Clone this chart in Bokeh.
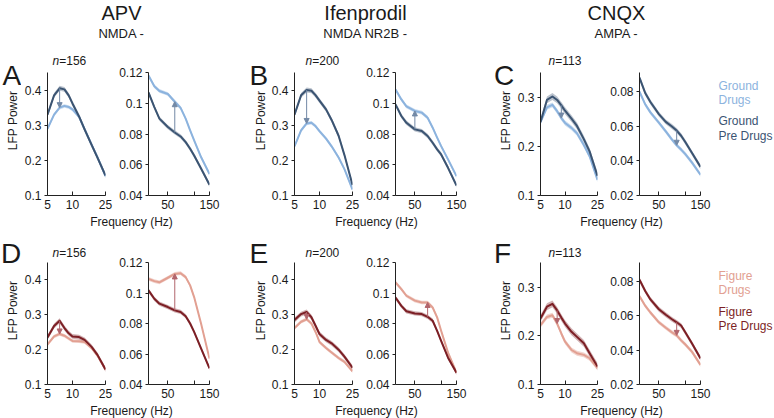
import math
from bokeh.plotting import figure
from bokeh.models import Range1d, FixedTicker, PrintfTickFormatter, Label, Arrow, NormalHead
from bokeh.layouts import column, row
from bokeh.embed import file_html
from bokeh.resources import INLINE

# ---------------- data ----------------
FREQ_LOW = [5, 6, 7, 8, 9, 10, 12, 14, 17, 20, 25]
FREQ_HIGH = [30, 35, 40, 50, 60, 70, 80, 90, 100, 120, 150]

DRUG_NAMES = ["APV", "Ifenprodil", "CNQX"]
RECEPTOR_LABELS = ["NMDA -", "NMDA NR2B -", "AMPA -"]
N_CELLS = [156, 200, 113]
LETTERS = [["A", "B", "C"], ["D", "E", "F"]]
LEGEND_TEXT = [["Ground", "Drugs", "Ground", "Pre Drugs"], ["Figure", "Drugs", "Figure", "Pre Drugs"]]

LOW_TICKS = [[0.1, 0.2, 0.3, 0.4], [0.1, 0.2, 0.3, 0.4], [0.1, 0.2, 0.3]]
HIGH_TICKS = [[0.04, 0.06, 0.08, 0.1, 0.12], [0.04, 0.06, 0.08, 0.1, 0.12], [0.02, 0.04, 0.06, 0.08]]
LOW_YRANGE = [(0.1, 0.45), (0.1, 0.45), (0.1, 0.351)]
HIGH_YRANGE = [(0.04, 0.12), (0.04, 0.12), (0.02, 0.091)]
LOW_XTICKS = [5, 10, 25]
HIGH_XTICKS = [50, 150]
HIGH_XMINOR = [100]

# Ground (top row)
A_LOW_PRE = [0.330, 0.385, 0.405, 0.402, 0.385, 0.362, 0.325, 0.288, 0.244, 0.208, 0.157]
A_LOW_DRUG = [0.290, 0.330, 0.350, 0.355, 0.352, 0.345, 0.324, 0.289, 0.245, 0.209, 0.155]
A_HIGH_PRE = [0.107, 0.0975, 0.090, 0.0845, 0.081, 0.0784, 0.0747, 0.0704, 0.066, 0.0576, 0.047]
A_HIGH_DRUG = [0.118, 0.111, 0.108, 0.106, 0.101, 0.097, 0.090, 0.0823, 0.0758, 0.065, 0.054]

B_LOW_PRE = [0.330, 0.385, 0.400, 0.398, 0.385, 0.370, 0.345, 0.315, 0.270, 0.215, 0.130]
B_LOW_DRUG = [0.240, 0.285, 0.305, 0.307, 0.297, 0.283, 0.262, 0.240, 0.208, 0.175, 0.117]
B_HIGH_PRE = [0.0993, 0.0917, 0.0873, 0.083, 0.0819, 0.0787, 0.0743, 0.070, 0.0667, 0.058, 0.0465]
B_HIGH_DRUG = [0.109, 0.1025, 0.098, 0.095, 0.0939, 0.0906, 0.0841, 0.0776, 0.0721, 0.0635, 0.0526]

C_LOW_PRE = [0.250, 0.295, 0.302, 0.295, 0.284, 0.273, 0.257, 0.242, 0.215, 0.190, 0.140]
C_LOW_DRUG = [0.250, 0.280, 0.285, 0.272, 0.258, 0.248, 0.238, 0.227, 0.203, 0.180, 0.132]
C_HIGH_PRE = [0.088, 0.079, 0.074, 0.067, 0.0625, 0.060, 0.0575, 0.0545, 0.051, 0.0445, 0.0365]
C_HIGH_DRUG = [0.080, 0.0725, 0.068, 0.062, 0.057, 0.0525, 0.049, 0.0465, 0.044, 0.039, 0.032]

# Figure (bottom row)
D_LOW_PRE = [0.235, 0.268, 0.283, 0.262, 0.247, 0.238, 0.236, 0.228, 0.208, 0.185, 0.143]
D_LOW_DRUG = [0.215, 0.238, 0.245, 0.240, 0.232, 0.225, 0.224, 0.222, 0.205, 0.183, 0.143]
D_HIGH_PRE = [0.1017, 0.0962, 0.093, 0.0908, 0.0886, 0.0876, 0.0848, 0.080, 0.0745, 0.0637, 0.0506]
D_HIGH_DRUG = [0.1093, 0.1078, 0.107, 0.110, 0.1125, 0.113, 0.1104, 0.105, 0.0973, 0.080, 0.057]

E_LOW_PRE = [0.285, 0.302, 0.308, 0.293, 0.268, 0.245, 0.228, 0.218, 0.200, 0.180, 0.148]
E_LOW_DRUG = [0.262, 0.280, 0.287, 0.275, 0.250, 0.222, 0.205, 0.192, 0.176, 0.165, 0.138]
E_HIGH_PRE = [0.097, 0.0916, 0.088, 0.0866, 0.0862, 0.0844, 0.0818, 0.0752, 0.0686, 0.0576, 0.0477]
E_HIGH_DRUG = [0.107, 0.1026, 0.0982, 0.095, 0.0938, 0.0938, 0.0905, 0.084, 0.0752, 0.0609, 0.0477]

F_LOW_PRE = [0.236, 0.260, 0.266, 0.2525, 0.2376, 0.2254, 0.2085, 0.198, 0.1847, 0.1644, 0.137]
F_LOW_DRUG = [0.222, 0.239, 0.2424, 0.2254, 0.205, 0.188, 0.171, 0.1644, 0.161, 0.154, 0.134]
F_HIGH_PRE = [0.081, 0.0743, 0.0695, 0.0638, 0.0606, 0.0581, 0.0562, 0.0543, 0.0505, 0.0438, 0.0352]
F_HIGH_DRUG = [0.0714, 0.0657, 0.0619, 0.0562, 0.053, 0.0505, 0.0486, 0.0457, 0.0434, 0.039, 0.0314]

# standard errors (band half widths)
SEM_LOW_PRE = 0.007
SEM_LOW_DRUG = 0.005
SEM_HIGH_PRE = 0.0014
SEM_HIGH_DRUG = 0.0012

# frequencies where the change arrows are drawn
ARROW_LOW_HZ = [[7, 7, 9], [7, 7, 8]]
ARROW_HIGH_HZ = [[60, 50, 80], [60, 70, 80]]

ROWS_DATA = [
    [(A_LOW_PRE, A_LOW_DRUG, A_HIGH_PRE, A_HIGH_DRUG),
     (B_LOW_PRE, B_LOW_DRUG, B_HIGH_PRE, B_HIGH_DRUG),
     (C_LOW_PRE, C_LOW_DRUG, C_HIGH_PRE, C_HIGH_DRUG)],
    [(D_LOW_PRE, D_LOW_DRUG, D_HIGH_PRE, D_HIGH_DRUG),
     (E_LOW_PRE, E_LOW_DRUG, E_HIGH_PRE, E_HIGH_DRUG),
     (F_LOW_PRE, F_LOW_DRUG, F_HIGH_PRE, F_HIGH_DRUG)],
]

# ---------------- styling ----------------
FONT = "Liberation Sans"
TEXT = "#1a1a1a"
AXIS = "#222222"
ROW_COLORS = [
    {"light": "#8cb3de", "dark": "#3b5472", "arrow": "#7389a6"},
    {"light": "#e2a092", "dark": "#7c1f25", "arrow": "#b2656c"},
]

# ---------------- layout geometry (page px) ----------------
TOTAL_W = 774
HEADER_Y = (0, 50)
ROW_Y = [(50, 214), (233, 403)]
STRIP_Y = [(214, 233), (403, 418)]
LEFT_TOP = [68, 260]           # top of the lower-frequency figure (n label strip above)
FRAME_T = [72, 262]
FRAME_B = [195, 384]
SIDE_X = [(0, 21), (248, 268), (493, 514)]
LEFT_X = [(21, 114), (268, 361), (514, 607)]
RIGHT_X = [(114, 248), (361, 493), (607, 714)]
LEGEND_XR = (714, 774)
FRAME_LX = [(44, 105), (291, 352), (537, 597)]
FRAME_RX = [(148, 209), (395, 456), (638, 700)]

# text positions (vertical = centre of capitals)
TITLE_X = [121, 365, 616]
TITLE_MID = 12.5
SUB_MID = 32.5
LETTER_X = [[2, 249, 493.5], [0.5, 249, 493.5]]
LETTER_MID = [75, 253]
N_X = [52, 305, 548]
N_MID = [60.5, 252.5]
LFP_X = [12.5, 260, 505]
LFP_Y = [120, 310]
FREQ_X = [131, 376, 621]
FREQ_MID = [221.2, 410.8]
LEGEND_X = 718
LEGEND_MID = [[85.2, 99.2, 120.7, 135.2], [275.2, 289.2, 311.7, 325.7]]


def blank(x0, y0, x1, y1):
    p = figure(width=x1 - x0, height=y1 - y0, x_range=Range1d(x0, x1), y_range=Range1d(y1, y0),
               x_axis_location=None, y_axis_location=None, toolbar_location=None,
               output_backend="svg", min_border=0, outline_line_color=None,
               title_location=None, frame_align=False)
    p.grid.visible = False
    p.background_fill_color = "white"
    p.border_fill_color = "white"
    return p


def add_text(p, x, y, text, size, color=TEXT, align="left", style="normal", angle=0.0):
    p.add_layout(Label(x=x, y=y, text=text, text_font=FONT, text_font_size=f"{size}px",
                       text_color=color, text_align=align, text_baseline="middle",
                       text_font_style=style, angle=angle))


def style_axes(p, xticks, minor, yticks):
    for ax in (p.xaxis[0], p.yaxis[0]):
        ax.axis_line_color = AXIS
        ax.axis_line_width = 1
        ax.major_tick_line_color = AXIS
        ax.major_label_text_font = FONT
        ax.major_label_text_font_size = "12px"
        ax.major_label_text_color = TEXT
        ax.formatter = PrintfTickFormatter(format="%g")
    xa = p.xaxis[0]
    xa.ticker = FixedTicker(ticks=xticks, minor_ticks=minor)
    xa.major_tick_in = 4
    xa.major_tick_out = 0
    xa.minor_tick_in = 4
    xa.minor_tick_out = 0
    xa.minor_tick_line_color = AXIS if minor else None
    xa.major_label_standoff = 4
    ya = p.yaxis[0]
    ya.ticker = FixedTicker(ticks=yticks)
    ya.major_tick_in = 0
    ya.major_tick_out = 3
    ya.minor_tick_line_color = None
    ya.major_label_standoff = 3
    p.grid.visible = False


def spectrum_fig(xb, yb, frame_x, frame_y, xr, yr, xt, mn, yt, freq, pre, drug, sp, sd, ahz, cols):
    x0, x1 = xb
    y0, y1 = yb
    fl, fr = frame_x
    ft, fb = frame_y
    p = figure(width=x1 - x0, height=y1 - y0, x_axis_type="log",
               x_range=Range1d(*xr), y_range=Range1d(*yr),
               min_border_left=fl - x0, min_border_right=x1 - fr,
               min_border_top=ft - y0, min_border_bottom=y1 - fb,
               toolbar_location=None, output_backend="svg",
               outline_line_color=None, title_location=None, frame_align=False)
    style_axes(p, xt, mn, yt)
    p.varea(x=freq, y1=[v - sd for v in drug], y2=[v + sd for v in drug],
            fill_color=cols["light"], fill_alpha=0.45)
    p.varea(x=freq, y1=[v - sp for v in pre], y2=[v + sp for v in pre],
            fill_color=cols["dark"], fill_alpha=0.35)
    p.line(freq, drug, line_color=cols["light"], line_width=2, line_join="round")
    p.line(freq, pre, line_color=cols["dark"], line_width=2, line_join="round")
    i = freq.index(ahz)
    p.add_layout(Arrow(end=NormalHead(size=5, fill_color=cols["arrow"], line_color=cols["arrow"]),
                       x_start=freq[i], y_start=pre[i], x_end=freq[i], y_end=drug[i],
                       line_color=cols["arrow"], line_width=1))
    return p


# header
header = blank(0, HEADER_Y[0], TOTAL_W, HEADER_Y[1])
for c in range(3):
    add_text(header, TITLE_X[c], TITLE_MID, DRUG_NAMES[c], 20, align="center")
    add_text(header, TITLE_X[c], SUB_MID, RECEPTOR_LABELS[c], 13, align="center")

children = [header]

for r in range(2):
    ry0, ry1 = ROW_Y[r]
    cols = ROW_COLORS[r]
    groups = []
    for c in range(3):
        pre_lo, drug_lo, pre_hi, drug_hi = ROWS_DATA[r][c]
        # side strip: panel letter and y label
        side = blank(SIDE_X[c][0], ry0, SIDE_X[c][1], ry1)
        add_text(side, LETTER_X[r][c], LETTER_MID[r], LETTERS[r][c], 28)
        add_text(side, LFP_X[c], LFP_Y[r], "LFP Power", 12, align="center", angle=math.pi / 2)
        # n label strip
        nfig = blank(LEFT_X[c][0], ry0, LEFT_X[c][1], LEFT_TOP[r])
        add_text(nfig, N_X[c], N_MID[r], "n", 12, style="italic")
        add_text(nfig, N_X[c] + 6.7, N_MID[r], f"={N_CELLS[c]}", 12)
        low = spectrum_fig(LEFT_X[c], (LEFT_TOP[r], ry1), FRAME_LX[c], (FRAME_T[r], FRAME_B[r]),
                           (5, 25), LOW_YRANGE[c], LOW_XTICKS, [], LOW_TICKS[c],
                           FREQ_LOW, pre_lo, drug_lo, SEM_LOW_PRE, SEM_LOW_DRUG,
                           ARROW_LOW_HZ[r][c], cols)
        high = spectrum_fig(RIGHT_X[c], (ry0, ry1), FRAME_RX[c], (FRAME_T[r], FRAME_B[r]),
                            (30, 150), HIGH_YRANGE[c], HIGH_XTICKS, HIGH_XMINOR, HIGH_TICKS[c],
                            FREQ_HIGH, pre_hi, drug_hi, SEM_HIGH_PRE, SEM_HIGH_DRUG,
                            ARROW_HIGH_HZ[r][c], cols)
        groups.append(row(side, column(nfig, low, spacing=0), high, spacing=0))
    leg = blank(LEGEND_XR[0], ry0, LEGEND_XR[1], ry1)
    legend_cols = [cols["light"], cols["light"], cols["dark"], cols["dark"]]
    for t, ym, col in zip(LEGEND_TEXT[r], LEGEND_MID[r], legend_cols):
        add_text(leg, LEGEND_X, ym, t, 12, color=col)
    groups.append(leg)
    children.append(row(*groups, spacing=0))
    strip = blank(0, STRIP_Y[r][0], TOTAL_W, STRIP_Y[r][1])
    for c in range(3):
        add_text(strip, FREQ_X[c], FREQ_MID[r], "Frequency (Hz)", 12, align="center")
    children.append(strip)

layout = column(*children, spacing=0)
open("out.html", "w").write(file_html(layout, INLINE))
